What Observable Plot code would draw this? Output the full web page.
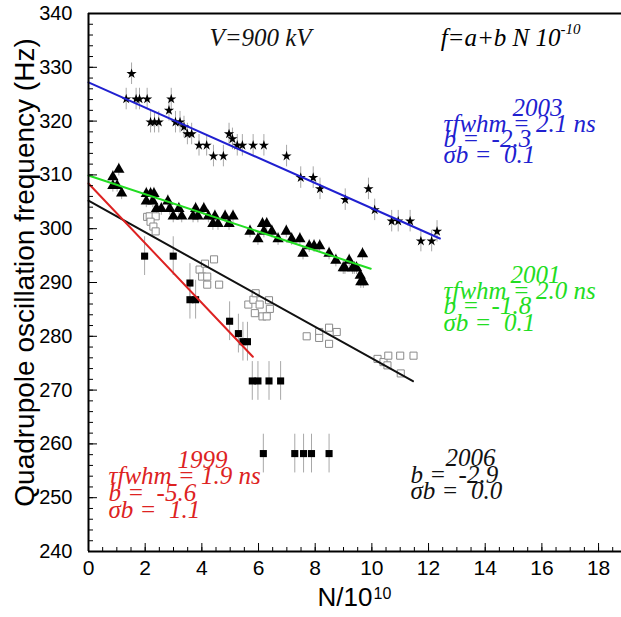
<!DOCTYPE html>
<html><head><meta charset="utf-8">
<script src="https://cdn.jsdelivr.net/npm/d3@7"></script>
<script src="https://cdn.jsdelivr.net/npm/@observablehq/plot@0.6"></script>
<style>body{margin:0;background:#fff} svg{display:block}</style>
</head><body><div id="chart"></div>
<script>
// ---- data ----
const N2003 = [1.52,1.33,1.68,1.80,2.07,2.19,2.33,2.48,2.84,2.92,3.07,3.23,3.37,3.49,3.64,3.90,4.17,4.41,4.76,4.96,5.08,5.25,5.43,5.81,6.19,6.99,7.49,7.93,8.17,9.06,9.88,10.1,10.7,10.93,11.35,11.73,12.11,12.3];
const f2003 = [328.8,324.1,324.1,324.1,324.1,319.8,319.8,319.8,322.0,324.1,319.8,319.8,318.9,317.6,317.6,315.5,315.5,313.5,313.5,317.6,316.7,315.5,315.5,315.5,315.5,313.5,309.5,309.5,307.4,305.4,307.4,303.5,301.4,301.4,301.4,297.7,297.7,299.5];

const N2001 = [0.86,1.07,0.86,1.01,1.17,2.04,2.19,2.31,2.04,2.27,2.40,2.57,2.80,2.87,2.99,3.19,3.29,3.69,3.78,3.86,4.07,4.23,4.39,4.46,4.57,4.82,4.96,5.10,5.70,5.98,6.14,6.29,6.19,6.47,6.69,6.98,7.17,7.46,7.57,7.79,7.96,8.16,8.49,8.73,8.99,9.2,9.38,9.05,9.32,9.46,9.67,9.59,9.61,9.70];
const f2001 = [309.6,311.0,308.0,308.0,306.6,306.5,306.5,306.5,305.1,305.1,303.7,303.7,305.1,303.7,302.3,303.7,302.3,302.3,303.7,302.3,303.7,302.3,300.9,302.3,300.9,302.3,300.9,302.3,299.5,298.1,300.9,300.9,299.5,299.5,298.1,299.5,298.1,298.1,295.4,296.8,296.8,296.8,295.4,294.1,292.7,294.1,292.7,292.7,292.7,292.7,295.3,291.3,290.1,290.1];

const N2006 = [2.07,2.16,2.37,2.19,2.29,2.37,3.92,4.01,4.11,4.19,4.19,4.43,4.61,5.64,5.82,5.87,5.90,6.04,6.14,6.29,6.37,6.40,7.70,8.14,8.14,8.49,8.49,8.76,10.2,10.41,10.55,10.58,11.0,11.02,11.47];
const f2006 = [302.2,302.3,302.3,301.3,300.4,299.5,292.4,291.1,293.5,291.1,289.6,294.3,289.6,285.9,286.8,284.3,288.0,285.9,283.7,283.7,286.7,285.1,280.0,280.8,279.7,281.6,278.6,280.8,275.8,275.2,274.6,276.4,276.4,273.1,276.4];

const N1999 = [1.98,2.99,3.58,3.58,3.78,4.98,5.29,5.45,5.61,5.78,5.98,6.37,6.78,6.17,7.28,7.59,7.87,8.49];
const f1999 = [294.9,294.9,289.9,286.8,286.8,282.8,280.5,279.0,279.0,271.7,271.7,271.7,271.7,258.2,258.2,258.2,258.2,258.2];

// fitted lines f = a + b N
const fitYears = ["2003","2001","2006","1999"];
const fitA     = [327.2, 309.9, 305.2, 308.4];
const fitB     = [-2.34, -1.74, -2.93, -5.55];
const fitNmax  = [12.4, 9.96, 11.45, 5.8];
const fitColor = ["#2020d0", "#22dd22", "#111111", "#dd2222"];

// errors
const err2003 = 2.0, err2001 = 1.2, err1999 = 3.6;

// ticks
const xMajor = d3.range(0, 19, 2);
const xMinor = d3.range(0, 18.81, 0.5);
const yMajor = d3.range(240, 341, 10);
const yMinor = d3.range(240, 341, 2);

// ---- layout ----
const W = 621, H = 617, mL = 88, mT = 13, mR = 0, mB = 66;
const frameW = W - mL - mR, frameH = H - mT - mB;
const xDom = [0, 18.81], yDom = [240, 340];
const xs = d3.scaleLinear(xDom, [mL, W - mR]);
const ys = d3.scaleLinear(yDom, [H - mB, mT]);

const pts = (N, f) => N.map((n, i) => ({N: n, f: f[i]}));
const s2003 = pts(N2003, f2003), s2001 = pts(N2001, f2001), s2006 = pts(N2006, f2006), s1999 = pts(N1999, f1999);
const fits = fitYears.flatMap((y, i) => [
  {year: y, N: 0, f: fitA[i], c: fitColor[i]},
  {year: y, N: fitNmax[i], f: fitA[i] + fitB[i] * fitNmax[i], c: fitColor[i]}
]);

// annotation placement (pixel anchors converted to data through the scales)
const serif = "Liberation Serif, Times New Roman, serif";
const blue = "#2020d0", green = "#22dd22", red = "#dd2222", black = "#111";
const notesMid = [
  {t: "V=900 kV", px: 260, py: 45, c: black},
  {t: "2003", px: 537, py: 115, c: blue},
  {t: "2001", px: 535, py: 282, c: green},
  {t: "2006", px: 470, py: 465, c: black},
  {t: "1999", px: 202, py: 467, c: red}
];
const notesStart = [
  {t: "\u03c4fwhm = 2.1 ns", px: 443, py: 131, c: blue},
  {t: "b =\u00a0 -2.3", px: 443, py: 146, c: blue},
  {t: "\u03c3b =\u00a0 0.1", px: 443, py: 162, c: blue},
  {t: "\u03c4fwhm = 2.0 ns", px: 443, py: 298, c: green},
  {t: "b =\u00a0 -1.8", px: 443, py: 313, c: green},
  {t: "\u03c3b =\u00a0 0.1", px: 443, py: 330, c: green},
  {t: "b =\u00a0 -2.9", px: 410, py: 482, c: black},
  {t: "\u03c3b =\u00a0 0.0", px: 410, py: 498, c: black},
  {t: "\u03c4fwhm = 1.9 ns", px: 108, py: 483, c: red},
  {t: "b =\u00a0 -5.6", px: 108, py: 500, c: red},
  {t: "\u03c3b =\u00a0 1.1", px: 108, py: 517, c: red}
];
const px2x = d => xs.invert(d.px), py2y = d => ys.invert(d.py);

const chart = Plot.plot({
  width: W, height: H,
  marginLeft: mL, marginTop: mT, marginRight: mR, marginBottom: mB,
  x: {domain: xDom}, y: {domain: yDom},
  color: {type: "identity"},
  style: {background: "white", fontFamily: "Liberation Sans, Arial, sans-serif"},
  marks: [
    // error bars
    Plot.ruleX(s2003, {x: "N", y1: d => d.f - err2003, y2: d => d.f + err2003, stroke: "#a8a8a8", strokeWidth: 1}),
    Plot.ruleX(s2001, {x: "N", y1: d => d.f - err2001, y2: d => d.f + err2001, stroke: "#a8a8a8", strokeWidth: 1}),
    Plot.ruleX(s1999, {x: "N", y1: d => d.f - err1999, y2: d => d.f + err1999, stroke: "#a8a8a8", strokeWidth: 1}),
    // points
    Plot.dot(s2006, {x: "N", y: "f", symbol: "square", r: 4, stroke: "#8a8a8a", fill: "white", strokeWidth: 1}),
    Plot.dot(s2003, {x: "N", y: "f", symbol: "star", r: 3.2, fill: "black", stroke: "none"}),
    Plot.dot(s2001, {x: "N", y: "f", symbol: "triangle", r: 4.2, fill: "black", stroke: "none"}),
    Plot.dot(s1999, {x: "N", y: "f", symbol: "square", r: 4, fill: "black", stroke: "none"}),
    // fit lines
    Plot.line(fits, {x: "N", y: "f", z: "year", stroke: "c", strokeWidth: 2}),
    // frame + ticks (inside)
    Plot.ruleX(xMinor, {x: d => d, insetTop: frameH - 4, stroke: "black"}),
    Plot.ruleX(xMajor, {x: d => d, insetTop: frameH - 8, stroke: "black"}),
    Plot.ruleY(yMinor, {y: d => d, insetRight: frameW - 5, stroke: "black"}),
    Plot.ruleY(yMajor, {y: d => d, insetRight: frameW - 9, stroke: "black"}),
    Plot.ruleX([0], {stroke: "black", strokeWidth: 2}),
    Plot.ruleY([240, 340], {stroke: "black", strokeWidth: 2}),
    // axis labels
    Plot.axisX({ticks: xMajor, tickSize: 0, tickPadding: 9, fontSize: 21, tickFormat: d => d, label: null}),
    Plot.axisY({ticks: yMajor, tickSize: 0, tickPadding: 16, fontSize: 20, tickFormat: d => d, label: null}),
    Plot.text(["Quadrupole oscillation frequency (Hz)"], {frameAnchor: "left", rotate: -90, dx: -55, dy: -10, lineAnchor: "bottom", textAnchor: "middle", fontSize: 28, fill: "black"}),
    Plot.text([{px: 372}], {x: px2x, frameAnchor: "bottom", dy: 54, text: () => "N/10", textAnchor: "end", lineAnchor: "bottom", fontSize: 26, fill: "black"}),
    Plot.text([{px: 373}], {x: px2x, frameAnchor: "bottom", dy: 47, text: () => "10", textAnchor: "start", lineAnchor: "bottom", fontSize: 16, fill: "black"}),
    // annotations
    Plot.text(notesMid, {x: px2x, y: py2y, text: "t", fill: "c", textAnchor: "middle", lineAnchor: "bottom", fontSize: 25, fontFamily: serif, fontStyle: "italic"}),
    Plot.text(notesStart, {x: px2x, y: py2y, text: "t", fill: "c", textAnchor: "start", lineAnchor: "bottom", fontSize: 25, fontFamily: serif, fontStyle: "italic"}),
    Plot.text([{t: "f=a+b N 10", px: 560, py: 45}], {x: px2x, y: py2y, text: "t", textAnchor: "end", lineAnchor: "bottom", fontSize: 25, fontFamily: serif, fontStyle: "italic", fill: "black"}),
    Plot.text([{t: "-10", px: 560, py: 33}], {x: px2x, y: py2y, text: "t", textAnchor: "start", lineAnchor: "bottom", fontSize: 15, fontFamily: serif, fontStyle: "italic", fill: "black"})
  ]
});
document.getElementById("chart").appendChild(chart);
</script>
</body></html>
